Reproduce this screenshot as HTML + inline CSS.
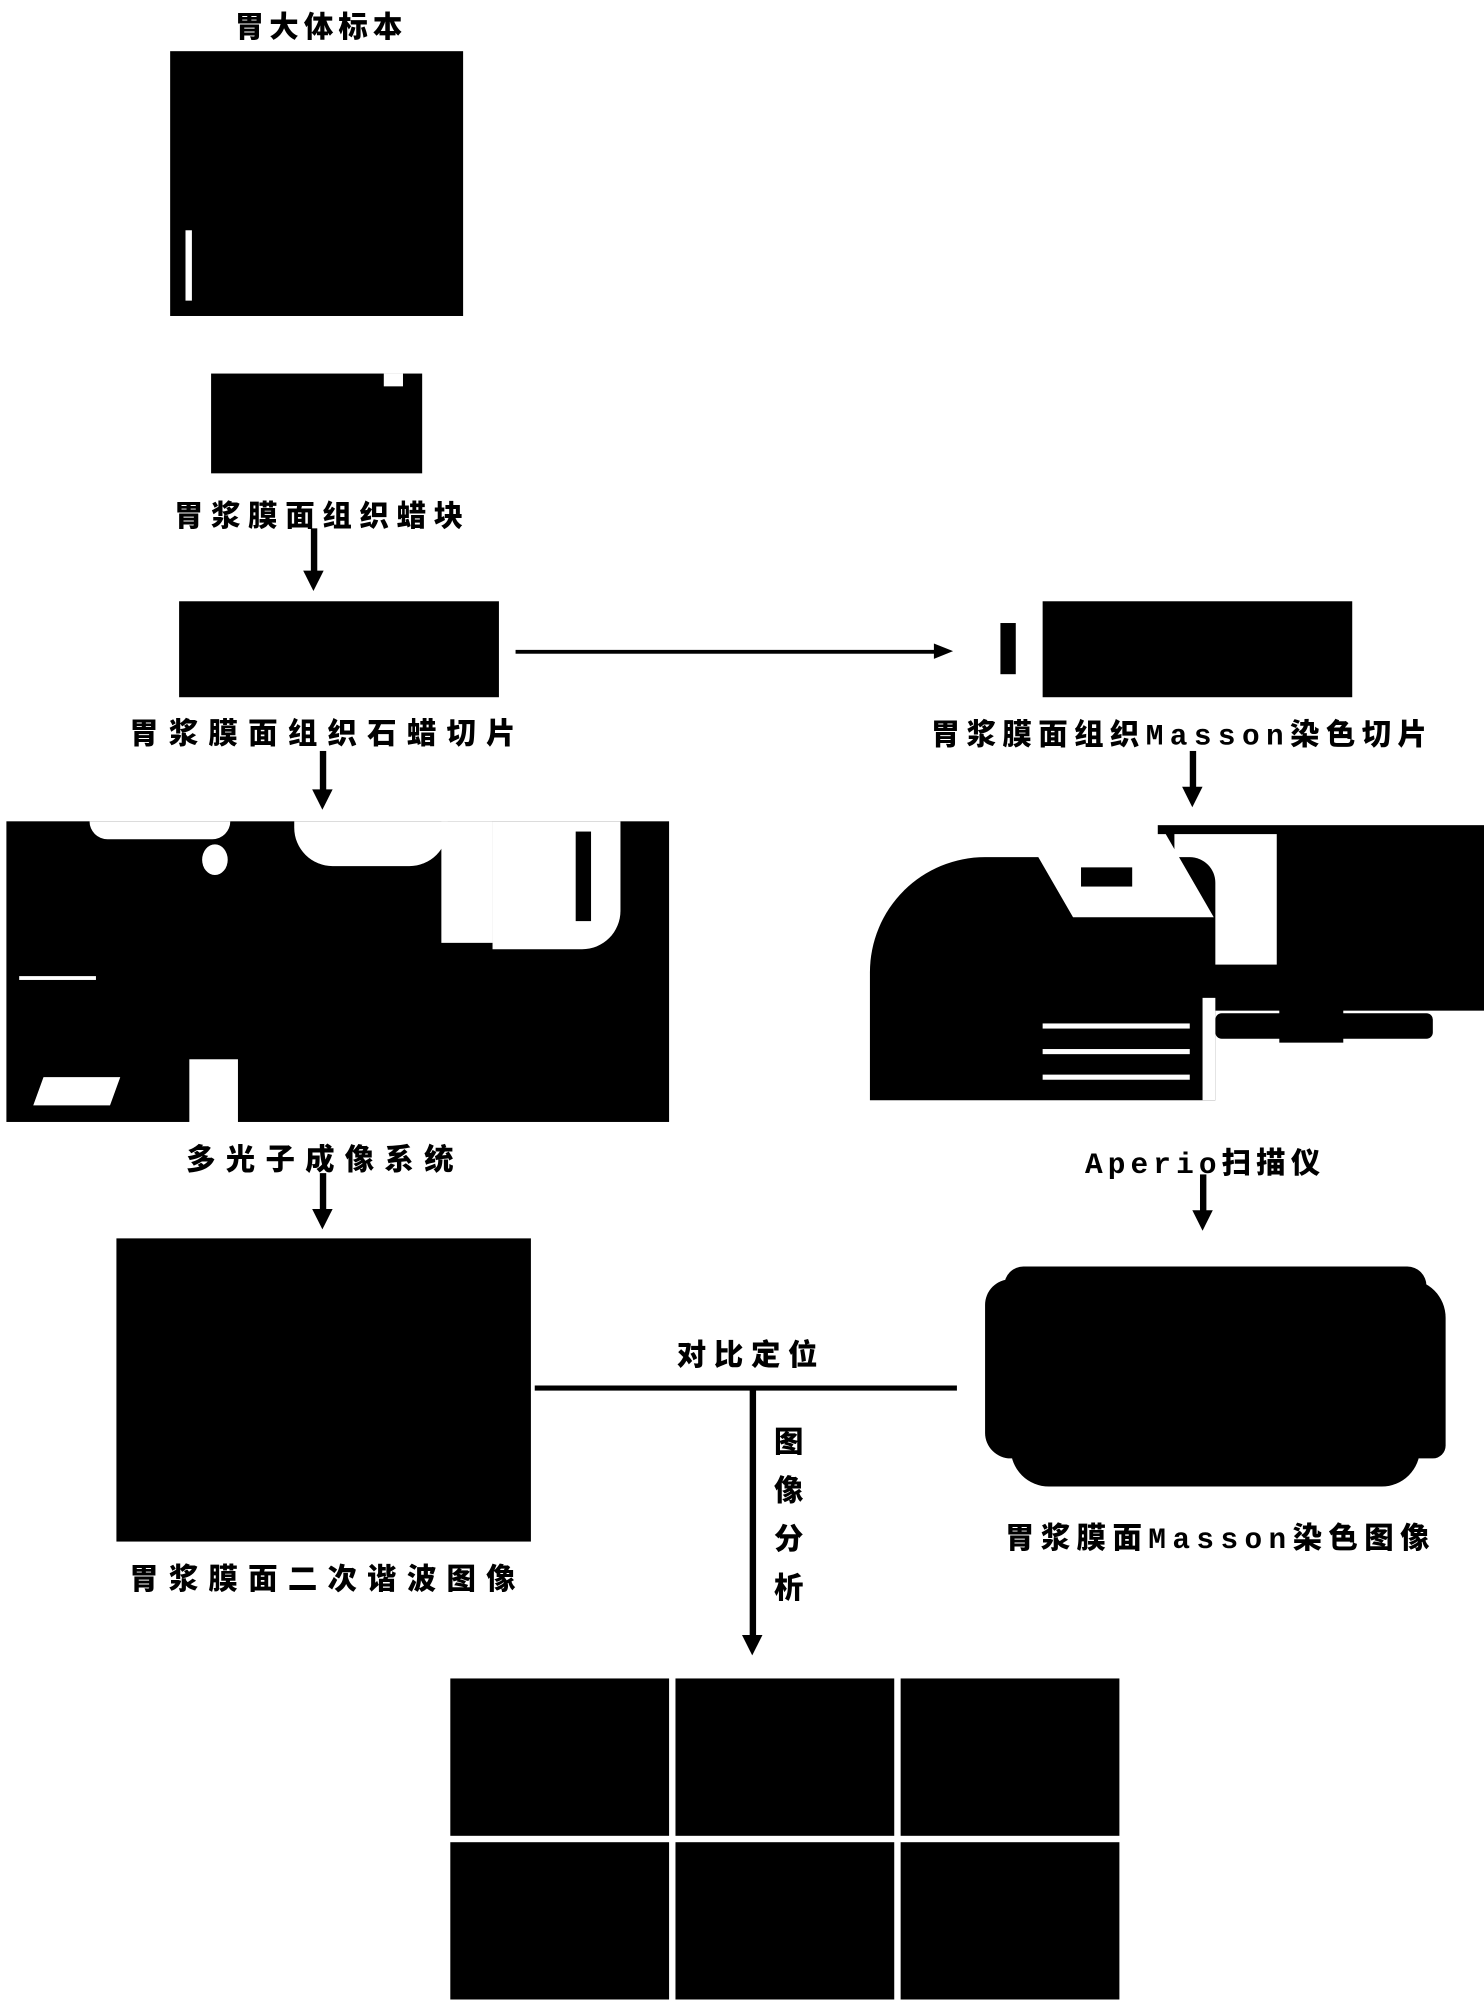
<!DOCTYPE html>
<html><head><meta charset="utf-8"><style>
html,body{margin:0;padding:0;background:#fff;}
#w{position:relative;width:1160px;height:1563px;transform:scale(1.27931);transform-origin:0 0;overflow:hidden;}
.b{position:absolute;background:#000;}
.wt{position:absolute;background:#fff;}
.t{position:absolute;font-family:"Liberation Mono","Noto Sans CJK SC",monospace;font-weight:900;font-size:23px;color:#000;white-space:nowrap;transform:translateX(-50%);letter-spacing:8px;}
.ln{position:absolute;background:#000;}
.ah{position:absolute;width:0;height:0;border-left:8px solid transparent;border-right:8px solid transparent;border-top:16px solid #000;}
</style></head><body><div id="w">
<div class="t" style="left:251px;top:2px;letter-spacing:4px">胃大体标本</div>
<div class="b" style="left:133px;top:40px;width:229px;height:207px"></div>
<div class="wt" style="left:145px;top:180px;width:5px;height:55px"></div>
<div class="b" style="left:165px;top:292px;width:165px;height:78px"></div>
<div class="wt" style="left:300px;top:292px;width:15px;height:10px"></div>
<div class="t" style="left:252px;top:384px;letter-spacing:6px">胃浆膜面组织蜡块</div>
<div class="ln" style="left:243px;top:413px;width:5px;height:35px"></div><div class="ah" style="left:237px;top:446px"></div>

<div class="b" style="left:140px;top:470px;width:250px;height:75px"></div>
<div class="t" style="left:256px;top:554px">胃浆膜面组织石蜡切片</div>
<div class="ln" style="left:403px;top:508px;width:330px;height:3px"></div>
<div style="position:absolute;left:730px;top:503px;width:0;height:0;border-top:6px solid transparent;border-bottom:6px solid transparent;border-left:15px solid #000"></div>
<div class="b" style="left:782px;top:487px;width:12px;height:40px"></div>
<div class="b" style="left:815px;top:470px;width:242px;height:75px"></div>
<div class="t" style="left:924px;top:555px;letter-spacing:5px">胃浆膜面组织Masson染色切片</div>

<div class="ln" style="left:250px;top:587px;width:5px;height:32px"></div><div class="ah" style="left:244px;top:617px"></div>
<div class="ln" style="left:930px;top:587px;width:5px;height:30px"></div><div class="ah" style="left:924px;top:615px"></div>

<div class="b" style="left:5px;top:642px;width:518px;height:235px"></div>
<div class="wt" style="left:70px;top:642px;width:110px;height:14px;border-radius:0 0 40px 40px"></div>
<div class="wt" style="left:230px;top:642px;width:120px;height:35px;border-radius:0 0 30px 30px"></div>
<div class="wt" style="left:345px;top:642px;width:40px;height:95px"></div>
<div class="wt" style="left:385px;top:642px;width:100px;height:100px;border-radius:0 0 30px 0"></div>
<div class="b" style="left:450px;top:650px;width:12px;height:70px"></div>
<div class="wt" style="left:158px;top:660px;width:20px;height:24px;border-radius:50%"></div>
<div class="wt" style="left:148px;top:828px;width:38px;height:50px"></div>
<div class="wt" style="left:30px;top:842px;width:60px;height:22px;transform:skewX(-20deg)"></div>
<div class="wt" style="left:15px;top:763px;width:60px;height:3px"></div>

<div class="b" style="left:905px;top:645px;width:255px;height:145px"></div>
<div class="wt" style="left:918px;top:652px;width:80px;height:102px"></div>
<div class="b" style="left:1000px;top:775px;width:50px;height:40px"></div>
<div class="b" style="left:950px;top:792px;width:170px;height:20px;border-radius:5px"></div>
<div class="b" style="left:680px;top:670px;width:270px;height:190px;border-radius:90px 20px 0 0"></div>
<div class="wt" style="left:820px;top:652px;width:110px;height:65px;transform:skewX(30deg)"></div>
<div class="b" style="left:845px;top:678px;width:40px;height:15px"></div>
<div class="wt" style="left:815px;top:800px;width:115px;height:4px"></div>
<div class="wt" style="left:815px;top:820px;width:115px;height:4px"></div>
<div class="wt" style="left:815px;top:840px;width:115px;height:4px"></div>
<div class="wt" style="left:940px;top:780px;width:10px;height:80px"></div>

<div class="t" style="left:254px;top:887px">多光子成像系统</div>
<div class="t" style="left:942px;top:890px;letter-spacing:4px">Aperio扫描仪</div>
<div class="ln" style="left:250px;top:917px;width:5px;height:30px"></div><div class="ah" style="left:244px;top:945px"></div>
<div class="ln" style="left:938px;top:918px;width:5px;height:30px"></div><div class="ah" style="left:932px;top:946px"></div>

<div class="b" style="left:91px;top:968px;width:324px;height:237px"></div>
<div class="b" style="left:770px;top:1000px;width:360px;height:140px;border-radius:20px 30px 10px 20px"></div>
<div class="b" style="left:785px;top:990px;width:330px;height:30px;border-radius:30px"></div>
<div class="b" style="left:790px;top:1120px;width:320px;height:42px;border-radius:10px 10px 30px 30px"></div>

<div class="ln" style="left:418px;top:1083px;width:330px;height:4px"></div>
<div class="t" style="left:587px;top:1040px;letter-spacing:6px">对比定位</div>
<div class="ln" style="left:586px;top:1085px;width:5px;height:195px"></div><div class="ah" style="left:580px;top:1278px"></div>
<div class="t" style="left:617px;top:1110px;white-space:normal;width:24px;line-height:38px;letter-spacing:0">图 像 分 析</div>

<div class="t" style="left:256px;top:1215px">胃浆膜面二次谐波图像</div>
<div class="t" style="left:954px;top:1183px;letter-spacing:5px">胃浆膜面Masson染色图像</div>

<div class="b" style="left:352px;top:1312px;width:171px;height:123px"></div>
<div class="b" style="left:528px;top:1312px;width:171px;height:123px"></div>
<div class="b" style="left:704px;top:1312px;width:171px;height:123px"></div>
<div class="b" style="left:352px;top:1440px;width:171px;height:123px"></div>
<div class="b" style="left:528px;top:1440px;width:171px;height:123px"></div>
<div class="b" style="left:704px;top:1440px;width:171px;height:123px"></div>
</div></body></html>
